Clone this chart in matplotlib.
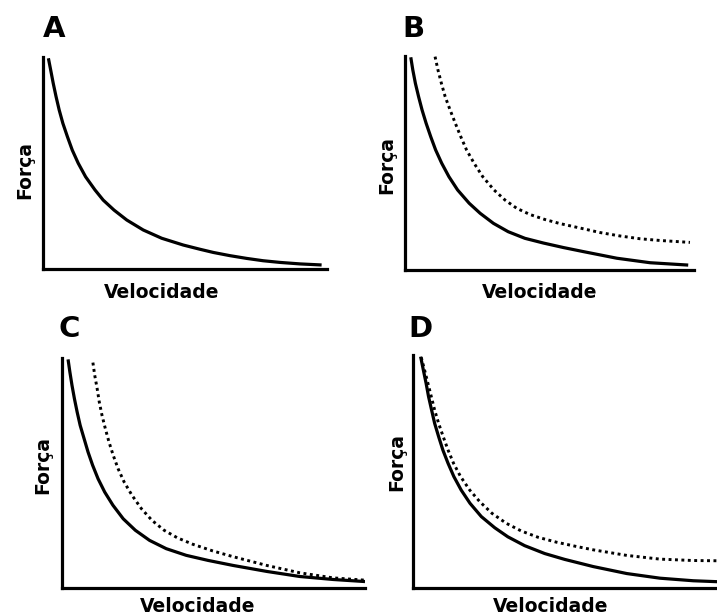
import matplotlib
matplotlib.use("Agg")
import matplotlib.pyplot as plt

W, H = 717, 615

# panel letters
panels = ["A", "B", "C", "D"]

# force-velocity curves, velocity and force both scaled 0..1 inside each panel
vel_A = [0.019, 0.027, 0.036, 0.046, 0.057, 0.070, 0.086, 0.103, 0.124, 0.150, 0.183, 0.212, 0.250,
         0.295, 0.353, 0.418, 0.494, 0.553, 0.600, 0.658, 0.717, 0.775, 0.835, 0.905, 0.981]
frc_A = [0.994, 0.939, 0.876, 0.813, 0.750, 0.687, 0.624, 0.561, 0.499, 0.435, 0.373, 0.325, 0.278,
         0.231, 0.184, 0.145, 0.113, 0.093, 0.078, 0.063, 0.050, 0.039, 0.031, 0.024, 0.019]

vel_B = [0.020, 0.027, 0.036, 0.047, 0.059, 0.073, 0.089, 0.106, 0.127, 0.152, 0.182, 0.222, 0.260,
         0.306, 0.357, 0.415, 0.479, 0.548, 0.617, 0.733, 0.848, 0.980]
frc_B = [0.994, 0.935, 0.872, 0.810, 0.748, 0.686, 0.623, 0.561, 0.499, 0.436, 0.374, 0.312, 0.265,
         0.218, 0.179, 0.148, 0.126, 0.105, 0.086, 0.055, 0.034, 0.023]
vel_B2 = [0.104, 0.114, 0.126, 0.139, 0.156, 0.174, 0.193, 0.213, 0.239, 0.269, 0.308, 0.346, 0.387,
          0.433, 0.484, 0.536, 0.606, 0.675, 0.744, 0.813, 0.882, 0.986]
frc_B2 = [0.997, 0.935, 0.872, 0.810, 0.748, 0.686, 0.623, 0.561, 0.499, 0.436, 0.374, 0.327, 0.288,
          0.259, 0.236, 0.217, 0.196, 0.175, 0.159, 0.146, 0.138, 0.129]

vel_C = [0.020, 0.026, 0.033, 0.041, 0.050, 0.060, 0.073, 0.086, 0.101, 0.119, 0.141, 0.168, 0.202,
         0.242, 0.289, 0.344, 0.410, 0.482, 0.565, 0.676, 0.785, 0.895, 1.000]
frc_C = [0.994, 0.939, 0.881, 0.823, 0.765, 0.707, 0.649, 0.591, 0.534, 0.475, 0.417, 0.360, 0.301,
         0.251, 0.207, 0.171, 0.142, 0.120, 0.098, 0.072, 0.050, 0.037, 0.028]
vel_C2 = [0.102, 0.108, 0.116, 0.123, 0.132, 0.143, 0.155, 0.169, 0.185, 0.205, 0.231, 0.262, 0.297,
          0.337, 0.381, 0.432, 0.498, 0.565, 0.676, 0.785, 0.895, 1.000]
frc_C2 = [0.980, 0.925, 0.867, 0.809, 0.751, 0.693, 0.635, 0.577, 0.519, 0.461, 0.403, 0.345, 0.294,
          0.251, 0.218, 0.190, 0.161, 0.136, 0.098, 0.066, 0.044, 0.034]

vel_D = [0.025, 0.034, 0.043, 0.051, 0.061, 0.071, 0.084, 0.098, 0.115, 0.134, 0.158, 0.187, 0.224,
         0.268, 0.311, 0.366, 0.432, 0.497, 0.591, 0.701, 0.810, 0.919, 0.997]
frc_D = [0.993, 0.935, 0.878, 0.821, 0.763, 0.706, 0.649, 0.591, 0.534, 0.477, 0.419, 0.362, 0.305,
         0.257, 0.218, 0.180, 0.146, 0.121, 0.090, 0.060, 0.040, 0.029, 0.025]
vel_D2 = [0.027, 0.038, 0.049, 0.060, 0.071, 0.084, 0.099, 0.115, 0.133, 0.156, 0.186, 0.219, 0.259,
          0.306, 0.355, 0.410, 0.470, 0.530, 0.591, 0.701, 0.810, 0.919, 0.997]
frc_D2 = [0.990, 0.935, 0.878, 0.821, 0.763, 0.706, 0.649, 0.591, 0.534, 0.477, 0.419, 0.369, 0.319,
          0.276, 0.243, 0.216, 0.195, 0.178, 0.162, 0.138, 0.122, 0.116, 0.115]

solid = [(vel_A, frc_A), (vel_B, frc_B), (vel_C, frc_C), (vel_D, frc_D)]
dotted = [None, (vel_B2, frc_B2), (vel_C2, frc_C2), (vel_D2, frc_D2)]

# axes boxes in pixels: left, right, top, bottom
boxes = [(43, 327, 57, 269), (405, 694, 56, 270), (62, 365, 358, 588), (413, 718, 355, 587.5)]
letter_pos = [(43, 37), (402, 37), (58, 337), (408, 337)]
xlabel_pos = [(162, 298), (540, 298), (198, 612), (551, 612)]
ylabel_pos = [(25, 170), (387, 165), (43, 465), (397, 462)]

plt.rcParams["font.family"] = "DejaVu Sans"
fig = plt.figure(figsize=(W / 100, H / 100), dpi=100)
fig.patch.set_facecolor("white")


def fx(px):
    return px / W


def fy(py):
    return 1 - py / H


for i, name in enumerate(panels):
    l, r, t, b = boxes[i]
    ax = fig.add_axes([fx(l), fy(b), (r - l) / W, (b - t) / H])
    ax.set_xlim(0, 1)
    ax.set_ylim(0, 1)
    ax.set_xticks([])
    ax.set_yticks([])
    for s in ["top", "right"]:
        ax.spines[s].set_visible(False)
    for s in ["left", "bottom"]:
        ax.spines[s].set_linewidth(2.3)
        ax.spines[s].set_color("black")
        ax.spines[s].set_capstyle("projecting")

    v, f = solid[i]
    ax.plot(v, f, color="black", lw=2.3, solid_capstyle="butt", solid_joinstyle="round")
    if dotted[i] is not None:
        v2, f2 = dotted[i]
        ax.plot(v2, f2, color="black", lw=2.1, linestyle=(0, (1, 1.2)), dash_capstyle="butt")

    lx, ly = letter_pos[i]
    fig.text(fx(lx), fy(ly), name, fontsize=21, fontweight="bold", ha="left", va="baseline")
    tx, ty = xlabel_pos[i]
    fig.text(fx(tx), fy(ty), "Velocidade", fontsize=13.5, fontweight="bold", ha="center", va="baseline")
    yx, yy = ylabel_pos[i]
    fig.text(fx(yx), fy(yy), "Força", fontsize=13.5, fontweight="bold", rotation=90, ha="center", va="center")

fig.savefig("out.png", dpi=100, facecolor="white")
